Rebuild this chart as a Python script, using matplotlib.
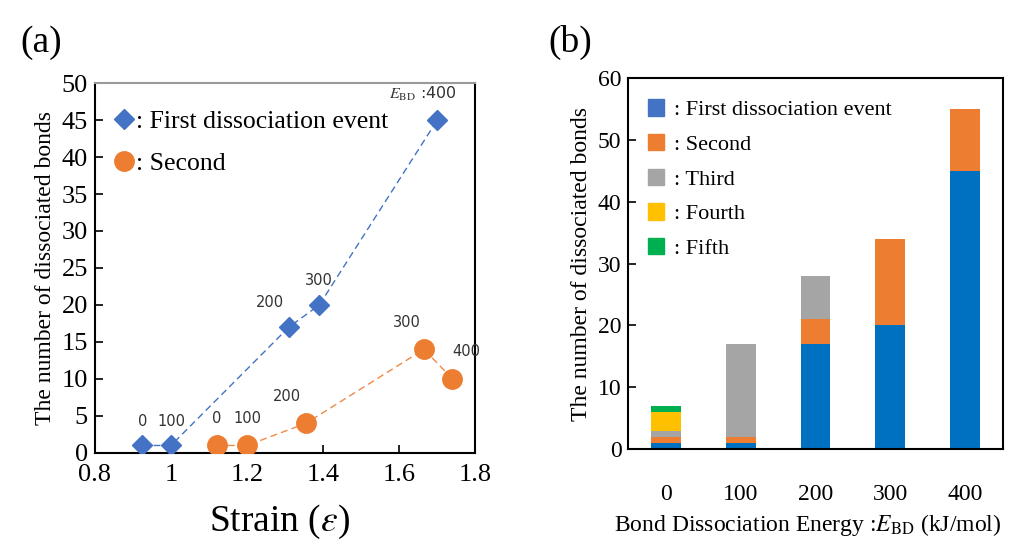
import matplotlib
matplotlib.use("Agg")
import matplotlib.pyplot as plt
from matplotlib.lines import Line2D
from matplotlib.patches import Patch
import numpy as np

# ---- data panel (a)
first_strain = [0.925, 1.0, 1.31, 1.39, 1.70]
first_bonds = [1, 1, 17, 20, 45]
first_labels = ["0", "100", "200", "300", r"$E_{\rm BD}$ :400"]
second_strain = [1.12, 1.20, 1.355, 1.665, 1.74]
second_bonds = [1, 1, 4, 14, 10]
second_labels = ["0", "100", "200", "300", "400"]

# ---- data panel (b)
energies = ["0", "100", "200", "300", "400"]
first_evt = [1, 1, 17, 20, 45]
second_evt = [1, 1, 4, 14, 10]
third_evt = [1, 15, 7, 0, 0]
fourth_evt = [3, 0, 0, 0, 0]
fifth_evt = [1, 0, 0, 0, 0]

serif = "Liberation Serif"
sans = "DejaVu Sans"
BLUE = "#4472C4"
BLUE_BAR = "#0070C0"
ORANGE = "#ED7D31"
GRAY = "#A5A5A5"
YELLOW = "#FFC000"
GREEN = "#00B050"

fig = plt.figure(figsize=(10.2, 5.43), dpi=100)
plt.rcParams['font.family'] = serif
plt.rcParams['mathtext.fontset'] = 'stix'

# ---------------- panel (a)
ax = fig.add_axes([0.093, 0.166, 0.373, 0.681])
ax.plot(first_strain, first_bonds, ls=(0, (5, 3)), color=BLUE, lw=1.0, zorder=2)
ax.plot(first_strain, first_bonds, ls='none', marker='D', ms=10, color=BLUE, zorder=3)
ax.plot(second_strain, second_bonds, ls=(0, (5, 3)), color=ORANGE, lw=1.0, alpha=0.9, zorder=2)
ax.plot(second_strain, second_bonds, ls='none', marker='o', ms=14, color=ORANGE, zorder=3)

first_offsets = [(0, 12), (0, 12), (-14, 12), (0, 12), (-10, 12)]
second_offsets = [(0, 14), (0, 14), (-14, 14), (-12, 14), (10, 14)]
for i, (x, y, t, o) in enumerate(zip(first_strain, first_bonds, first_labels, first_offsets)):
    ax.annotate(t, (x, y), xytext=o, textcoords='offset points', ha='center', va='bottom',
                fontsize=11.5 if i == 4 else 10.5, family=sans, color='#333333')
for x, y, t, o in zip(second_strain, second_bonds, second_labels, second_offsets):
    ax.annotate(t, (x, y), xytext=o, textcoords='offset points', ha='center', va='bottom',
                fontsize=10.5, family=sans, color='#333333')

ax.set_xlim(0.8, 1.8)
ax.set_ylim(0, 50)
ax.set_xticks(np.arange(0.8, 1.81, 0.2))
ax.set_xticklabels(["0.8", "1", "1.2", "1.4", "1.6", "1.8"])
ax.set_yticks(np.arange(0, 51, 5))
ax.tick_params(axis='both', direction='in', length=6, width=1.2, labelsize=19)
ax.tick_params(axis='x', pad=8)
ax.tick_params(axis='y', pad=5)
for s in ax.spines.values():
    s.set_linewidth(1.5)
ax.spines['top'].set_color('#999999')
ax.set_xlabel(r"Strain ($\varepsilon$)", fontsize=27, labelpad=2)
ax.xaxis.set_label_coords(0.485, -0.135)
ax.set_ylabel("The number of dissociated bonds", fontsize=17, labelpad=4)

h1 = Line2D([], [], ls='none', marker='D', ms=10, color=BLUE)
h2 = Line2D([], [], ls='none', marker='o', ms=14, color=ORANGE)
ax.legend([h1, h2], [": First dissociation event", ": Second"], loc='upper left',
          bbox_to_anchor=(0.0, 0.975), frameon=False, fontsize=18.5, handlelength=0.9,
          handletextpad=0.0, labelspacing=0.72, borderaxespad=0.3)
fig.text(0.020, 0.905, "(a)", fontsize=27, family=serif)

# ---------------- panel (b)
bx = fig.add_axes([0.616, 0.173, 0.367, 0.683])
xpos = np.arange(len(energies))
bw = 0.4
bottom = np.zeros(len(energies))
series = [(first_evt, BLUE_BAR), (second_evt, ORANGE), (third_evt, GRAY),
          (fourth_evt, YELLOW), (fifth_evt, GREEN)]
for vals, col in series:
    bx.bar(xpos, vals, bw, bottom=bottom, color=col, zorder=2)
    bottom = bottom + np.array(vals)
bx.set_xlim(-0.5, 4.5)
bx.set_ylim(0, 60)
bx.set_xticks(xpos)
bx.set_xticklabels(energies)
bx.set_yticks(np.arange(0, 61, 10))
bx.tick_params(axis='y', direction='in', length=6, width=1.2, labelsize=17, pad=5)
bx.tick_params(axis='x', length=0, labelsize=17, pad=25)
for s in bx.spines.values():
    s.set_linewidth(1.5)
bx.set_ylabel("The number of dissociated bonds", fontsize=17, labelpad=4)
bx.set_xlabel(r"Bond Dissociation Energy :$E_{\rm BD}$ (kJ/mol)", fontsize=17, labelpad=3)
bx.xaxis.set_label_coords(0.48, -0.17)

handles = [Patch(color=BLUE), Patch(color=ORANGE), Patch(color=GRAY), Patch(color=YELLOW), Patch(color=GREEN)]
labels = [": First dissociation event", ": Second", ": Third", ": Fourth", ": Fifth"]
bx.legend(handles, labels, loc='upper left', bbox_to_anchor=(0.01, 0.985), frameon=False,
          fontsize=16, handlelength=0.75, handleheight=0.75, handletextpad=0.45,
          labelspacing=0.62, borderaxespad=0.3)
fig.text(0.538, 0.905, "(b)", fontsize=27, family=serif)

fig.savefig("out.png", dpi=100)
